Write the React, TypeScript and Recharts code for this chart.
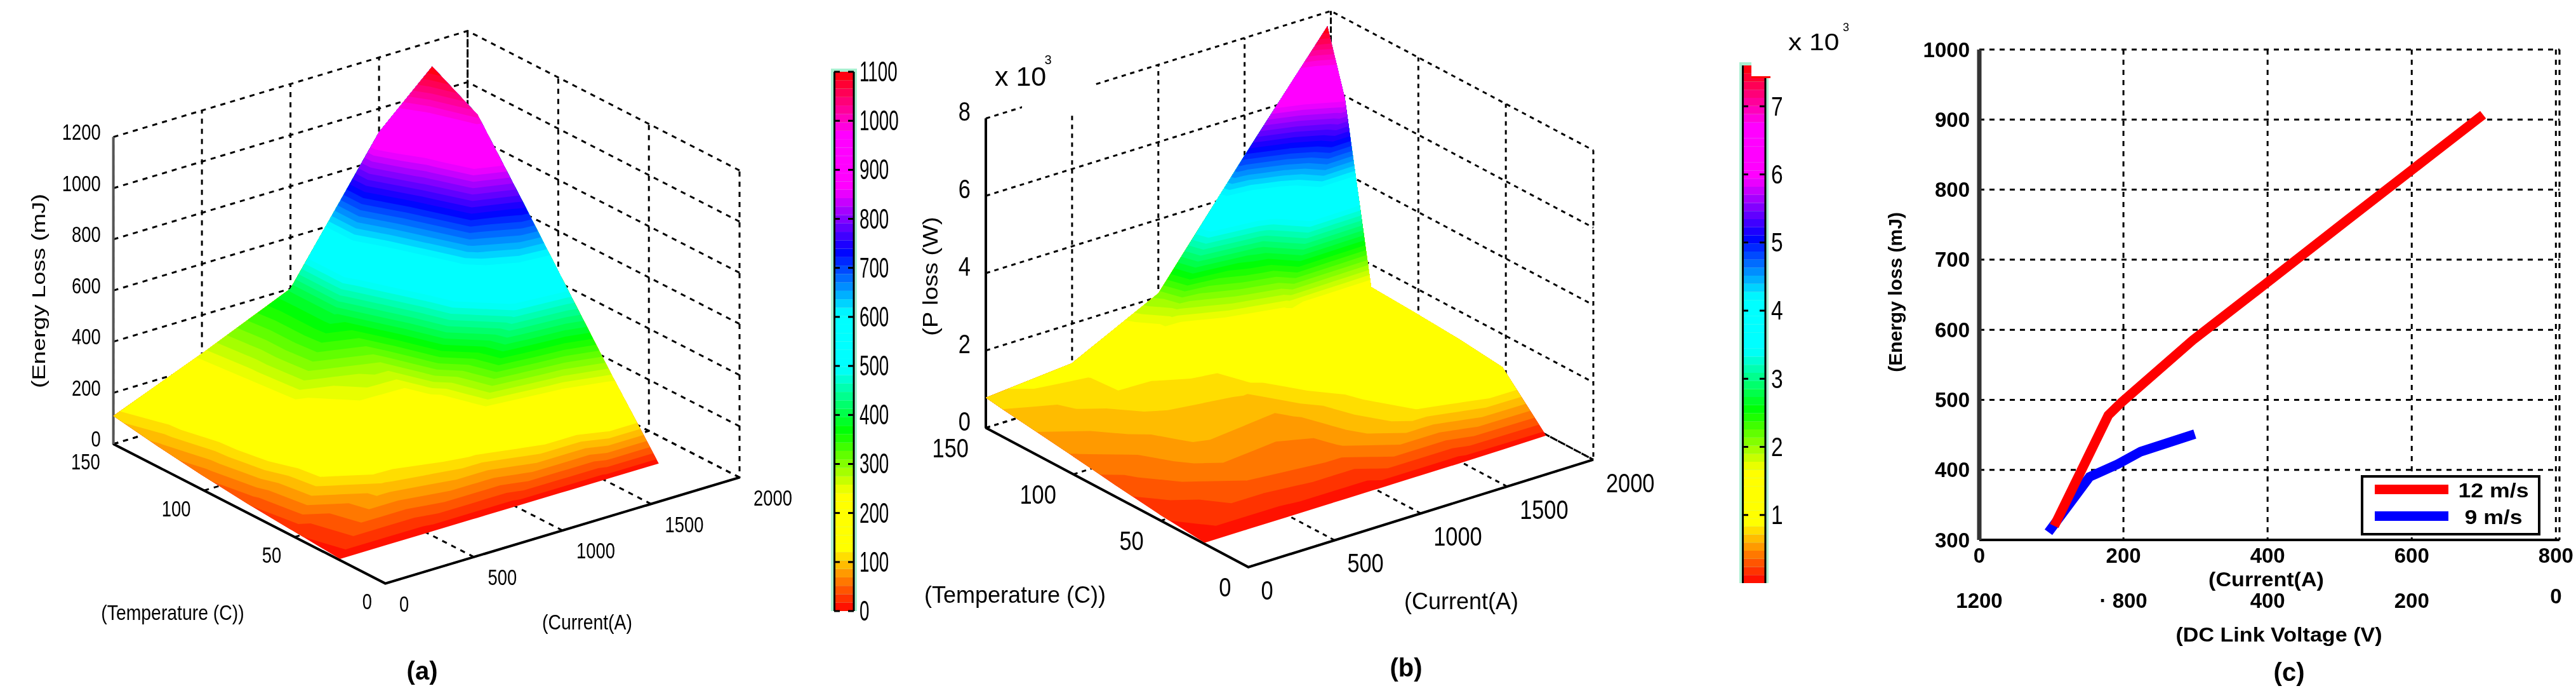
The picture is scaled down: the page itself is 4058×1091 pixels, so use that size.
import React from "react";
import {
  Area,
  Bar,
  BarChart,
  CartesianGrid,
  ComposedChart,
  Legend,
  Line,
  LineChart,
  Scatter,
  XAxis,
  YAxis,
} from "recharts";

const PAGE_W = 4058;
const PAGE_H = 1091;
const FONT = "'Liberation Sans', Arial, sans-serif";
const BANDS = 64;

// (a) energy loss surface, mJ. One row per temperature, one column per current.
const energyCurrents = [0, 500, 1000, 1500, 1800];
const energyTemps = [25, 50, 75, 100, 125, 150];
const energyAt25 = [5, 5, 5, 5, 5];
const energyAt50 = [20, 100, 130, 185, 247];
const energyAt75 = [35, 190, 195, 475, 500];
const energyAt100 = [55, 230, 290, 670, 755];
const energyAt125 = [80, 240, 400, 780, 1005];
const energyAt150 = [110, 250, 400, 908, 1102];
const energyCurrentTicks = [0, 500, 1000, 1500, 2000];
const energyTempTicks = [0, 50, 100, 150];
const energyZTicks = [0, 200, 400, 600, 800, 1000, 1200];
const energyBarTicks = [0, 100, 200, 300, 400, 500, 600, 700, 800, 900, 1000, 1100];

// (b) power loss surface, x 10^3 W
const powerCurrents = [0, 500, 1000, 1500, 1980];
const powerTemps = [25, 50, 75, 100, 125, 140, 150];
const powerAt25 = [0.03, 0.03, 0.03, 0.03, 0.05];
const powerAt50 = [0.14, 0.36, 0.43, 0.85, 1.22];
const powerAt75 = [0.29, 0.57, 0.53, 1.0, 1.35];
const powerAt100 = [0.46, 0.67, 0.72, 1.25, 1.43];
const powerAt125 = [0.62, 0.79, 0.89, 1.7, 1.49];
const powerAt140 = [0.71, 0.82, 1.85, 2.9, 6];
const powerAt150 = [0.78, 0.98, 2.09, 4.96, 7.63];
const powerCurrentTicks = [0, 500, 1000, 1500, 2000];
const powerTempTicks = [0, 50, 100, 150];
const powerZTicks = [0, 2, 4, 6, 8];
const powerBarTicks = [1, 2, 3, 4, 5, 6, 7];

// (c) energy loss against current
const fast12 = [
  { current: 104, loss: 320 },
  { current: 179, loss: 478 },
  { current: 198, loss: 497 },
  { current: 296, loss: 585 },
  { current: 394, loss: 663 },
  { current: 511, loss: 757 },
  { current: 595, loss: 824 },
  { current: 699, loss: 907 },
];
const slow9 = [
  { current: 96, loss: 311 },
  { current: 153, loss: 390 },
  { current: 192, loss: 408 },
  { current: 224, loss: 426 },
  { current: 299, loss: 451 },
];
const currentTicks = [0, 200, 400, 600, 800];
const voltageLabels = ["1200", "· 800", "400", "200", "0"];
const lossTicks = [300, 400, 500, 600, 700, 800, 900, 1000];

type Vec = [number, number];
type View = { origin: Vec; iEnd: Vec; tEnd: Vec; zEnd: Vec; iMax: number; tMax: number; zMax: number };

// where each axis runs on the page, the surface is projected through these
const energyView: View = {
  origin: [607, 918.6],
  iEnd: [1165, 751.6],
  tEnd: [178.6, 699],
  zEnd: [178.6, 215.7],
  iMax: 2000,
  tMax: 150,
  zMax: 1200,
};
const powerView: View = {
  origin: [1966.5, 892.8],
  iEnd: [2510, 723.7],
  tEnd: [1553, 673.6],
  zEnd: [1553, 186.5],
  iMax: 2000,
  tMax: 150,
  zMax: 8,
};

function project(v: View, i: number, t: number, z: number): { vx: number; vy: number } {
  const a = i / v.iMax;
  const b = t / v.tMax;
  const c = z / v.zMax;
  return {
    vx: v.origin[0] + a * (v.iEnd[0] - v.origin[0]) + b * (v.tEnd[0] - v.origin[0]),
    vy:
      v.origin[1] +
      a * (v.iEnd[1] - v.origin[1]) +
      b * (v.tEnd[1] - v.origin[1]) +
      c * (v.zEnd[1] - v.tEnd[1]),
  };
}

// hsv colour map, the channels saturate early so yellow, cyan and magenta come out wide
function hsv(h: number): string {
  const f = ((h % 1) + 1) % 1;
  const k = (n: number) => {
    const p = (n + f * 6) % 6;
    const c = 1 - Math.max(0, Math.min(p, 4 - p, 1));
    return Math.round(255 * Math.min(1, c / 0.7));
  };
  const hex = (n: number) => n.toString(16).padStart(2, "0");
  return `#${hex(k(5))}${hex(k(3))}${hex(k(1))}`;
}

type Pt = { x: number; y: number; z: number };

function triangles(v: View, currents: number[], temps: number[], rows: number[][]): Pt[][] {
  const at = (t: number, i: number): Pt => {
    const p = project(v, currents[i], temps[t], rows[t][i]);
    return { x: p.vx, y: p.vy, z: rows[t][i] };
  };
  const out: Pt[][] = [];
  for (let t = 0; t < temps.length - 1; t++) {
    for (let i = 0; i < currents.length - 1; i++) {
      out.push([at(t, i), at(t, i + 1), at(t + 1, i + 1)]);
      out.push([at(t, i), at(t + 1, i + 1), at(t + 1, i)]);
    }
  }
  return out;
}

// the part of the surface at or above a level, as low/high pairs per screen column
function regionAbove(tris: Pt[][], level: number) {
  const eps = 1e-7;
  const xs: number[] = [];
  for (const tri of tris) {
    for (let e = 0; e < 3; e++) {
      const p = tri[e];
      const q = tri[(e + 1) % 3];
      xs.push(p.x);
      if ((p.z - level) * (q.z - level) < 0) {
        xs.push(p.x + ((level - p.z) / (q.z - p.z)) * (q.x - p.x));
      }
    }
  }
  xs.sort((a, b) => a - b);
  const rows: { vx: number; range: [number, number] | null }[] = [];
  let last = -Infinity;
  for (const x of xs) {
    if (x - last < 0.01) continue;
    last = x;
    let lo = -Infinity;
    let hi = Infinity;
    for (const tri of tris) {
      const cut: { y: number; z: number }[] = [];
      for (let e = 0; e < 3; e++) {
        const p = tri[e];
        const q = tri[(e + 1) % 3];
        if (x < Math.min(p.x, q.x) - 1e-9 || x > Math.max(p.x, q.x) + 1e-9) continue;
        const f = q.x === p.x ? 0 : (x - p.x) / (q.x - p.x);
        cut.push({ y: p.y + f * (q.y - p.y), z: p.z + f * (q.z - p.z) });
      }
      for (let a = 0; a < cut.length; a++) {
        for (let b = a + 1; b < cut.length; b++) {
          const p = cut[a];
          const q = cut[b];
          if (p.z >= level - eps) {
            lo = Math.max(lo, p.y);
            hi = Math.min(hi, p.y);
          }
          if (q.z >= level - eps) {
            lo = Math.max(lo, q.y);
            hi = Math.min(hi, q.y);
          }
          if ((p.z - level) * (q.z - level) < 0) {
            const y = p.y + ((level - p.z) / (q.z - p.z)) * (q.y - p.y);
            lo = Math.max(lo, y);
            hi = Math.min(hi, y);
          }
        }
      }
    }
    rows.push({ vx: x, range: lo === -Infinity ? null : [lo, hi] });
  }
  return rows;
}

function Squish({ x, y, text, size, sx = 1, rotate = 0, anchor = "middle", weight = 400 }: any) {
  return (
    <text
      transform={`translate(${x} ${y}) rotate(${rotate}) scale(${sx} 1)`}
      textAnchor={anchor}
      dominantBaseline="central"
      fontFamily={FONT}
      fontSize={size}
      fontWeight={weight}
      fill="#000"
    >
      {text}
    </text>
  );
}

type SurfaceProps = {
  view: View;
  currents: number[];
  temps: number[];
  rows: number[][];
  colorMax: number;
  iTicks: number[];
  tTicks: number[];
  zTicks: number[];
  zAxisColor: string;
  digitSize: number;
  digitSx: number;
  tOffset: Vec;
  iOffset: Vec;
  zOffset: Vec;
  dash: string;
};

function Surface(props: SurfaceProps) {
  const { view, currents, temps, rows, colorMax, iTicks, tTicks, zTicks } = props;
  const { iMax, tMax, zMax } = view;
  const tris = triangles(view, currents, temps, rows);
  const step = colorMax / BANDS;
  const bands = Array.from({ length: BANDS }, (_, k) => ({
    color: hsv((k + 0.5) / BANDS),
    data: regionAbove(tris, k === 0 ? -1 : k * step),
  }));

  const dashed: { vx: number; vy: number }[][] = [];
  for (const z of zTicks) {
    dashed.push([project(view, 0, tMax, z), project(view, iMax, tMax, z), project(view, iMax, 0, z)]);
  }
  for (const i of iTicks) {
    dashed.push([project(view, i, 0, 0), project(view, i, tMax, 0), project(view, i, tMax, zMax)]);
  }
  for (const t of tTicks) {
    dashed.push([project(view, 0, t, 0), project(view, iMax, t, 0), project(view, iMax, t, zMax)]);
  }
  const solid = [
    { color: "#000", data: [project(view, iMax, 0, 0), project(view, 0, 0, 0), project(view, 0, tMax, 0)] },
    { color: props.zAxisColor, data: [project(view, 0, tMax, 0), project(view, 0, tMax, zMax)] },
  ];

  const labels = [
    ...zTicks.map((z) => ({ ...project(view, 0, tMax, z), label: String(z), off: props.zOffset, anchor: "end" })),
    ...tTicks.map((t) => ({ ...project(view, 0, t, 0), label: String(t), off: props.tOffset, anchor: "end" })),
    ...iTicks.map((i) => ({ ...project(view, i, 0, 0), label: String(i), off: props.iOffset, anchor: "start" })),
  ];

  return (
    <ComposedChart
      width={PAGE_W}
      height={PAGE_H}
      margin={{ top: 0, right: 0, bottom: 0, left: 0 }}
      style={{ position: "absolute", left: 0, top: 0 }}
    >
      <XAxis type="number" dataKey="vx" domain={[0, PAGE_W]} hide allowDataOverflow />
      <YAxis type="number" dataKey="vy" domain={[0, PAGE_H]} reversed hide allowDataOverflow width={0} />
      {dashed.map((data, n) => (
        <Line
          key={`d${n}`}
          data={data}
          dataKey="vy"
          stroke="#000"
          strokeWidth={3}
          strokeDasharray={props.dash}
          dot={false}
          activeDot={false}
          isAnimationActive={false}
          zIndex={50}
        />
      ))}
      {solid.map((s, n) => (
        <Line
          key={`s${n}`}
          data={s.data}
          dataKey="vy"
          stroke={s.color}
          strokeWidth={4}
          dot={false}
          activeDot={false}
          isAnimationActive={false}
          zIndex={60}
        />
      ))}
      {bands.map((b, n) => (
        <Area
          key={`b${n}`}
          data={b.data}
          dataKey="range"
          type="linear"
          fill={b.color}
          fillOpacity={1}
          stroke="none"
          dot={false}
          activeDot={false}
          isAnimationActive={false}
          zIndex={100}
        />
      ))}
      <Scatter
        data={labels}
        isAnimationActive={false}
        shape={(p: any) => (
          <Squish
            x={p.cx + p.off[0]}
            y={p.cy + p.off[1]}
            text={p.label}
            size={props.digitSize}
            sx={props.digitSx}
            anchor={p.anchor}
          />
        )}
      />
    </ComposedChart>
  );
}

function ColorBar({ left, right, top, bottom, max, ticks, size, sx }: any) {
  const step = max / BANDS;
  const row: Record<string, number | string> = { cat: "bar" };
  for (let k = 0; k < BANDS; k++) row[`b${k}`] = step;
  return (
    <>
      {/* pale fringe round the bar, left over from the scan */}
      <div style={{ position: "absolute", left: left - 5, top: top - 5, width: right - left + 10, height: bottom - top + 5, background: "#a8f0d0" }} />
      <BarChart
        width={PAGE_W}
        height={PAGE_H}
        data={[row]}
        barCategoryGap={0}
        margin={{ top, left, right: PAGE_W - right - 1, bottom: PAGE_H - bottom }}
        style={{ position: "absolute", left: 0, top: 0 }}
      >
        <XAxis dataKey="cat" hide />
        <YAxis
          yAxisId="bar"
          orientation="right"
          type="number"
          width={1}
          domain={[0, max]}
          ticks={ticks}
          interval={0}
          tickLine={false}
          axisLine={{ stroke: "#000", strokeWidth: 3 }}
          tick={(p: any) => (
            <g>
              <line x1={right - 9} x2={right} y1={p.y} y2={p.y} stroke="#000" strokeWidth={3} />
              <line x1={left} x2={left + 9} y1={p.y} y2={p.y} stroke="#000" strokeWidth={3} />
              <Squish x={right + 9} y={p.y} text={String(p.payload.value)} size={size} sx={sx} anchor="start" />
            </g>
          )}
        />
        {Array.from({ length: BANDS }, (_, k) => (
          <Bar
            key={k}
            yAxisId="bar"
            dataKey={`b${k}`}
            stackId="bar"
            fill={hsv((k + 0.5) / BANDS)}
            isAnimationActive={false}
          />
        ))}
      </BarChart>
      <div style={{ position: "absolute", left: left - 1, top, width: 3, height: bottom - top, background: "#000" }} />
    </>
  );
}

function CurrentChart() {
  const plotLeft = 3118;
  const plotRight = 4032;
  return (
    <LineChart
      width={PAGE_W}
      height={PAGE_H}
      margin={{ top: 78, left: plotLeft - 100, right: PAGE_W - plotRight, bottom: 131 }}
      style={{ position: "absolute", left: 0, top: 0 }}
    >
      <CartesianGrid stroke="#000" strokeWidth={3} strokeDasharray="8 8" />
      <XAxis
        type="number"
        dataKey="current"
        domain={[0, 805]}
        ticks={currentTicks}
        interval={0}
        height={110}
        tickLine={false}
        axisLine={{ stroke: "#000", strokeWidth: 4 }}
        tick={(p: any) => {
          const n = currentTicks.indexOf(p.payload.value);
          return (
            <g>
              <Squish x={p.x} y={874} text={String(p.payload.value)} size={33} weight={700} />
              <Squish x={p.x} y={n === 4 ? 938 : 945} text={voltageLabels[n]} size={33} weight={700} />
            </g>
          );
        }}
      />
      <YAxis
        type="number"
        dataKey="loss"
        width={100}
        domain={[300, 1000]}
        ticks={lossTicks}
        interval={0}
        tickLine={false}
        axisLine={{ stroke: "#333", strokeWidth: 7 }}
        tick={(p: any) => (
          <Squish x={3103} y={p.y} text={String(p.payload.value)} size={33} weight={700} anchor="end" />
        )}
      />
      <Line data={slow9} dataKey="loss" stroke="#0000ff" strokeWidth={15} dot={false} isAnimationActive={false} />
      <Line data={fast12} dataKey="loss" stroke="#ff0000" strokeWidth={15} dot={false} isAnimationActive={false} />
      <Legend
        layout="horizontal"
        align="center"
        verticalAlign="middle"
        wrapperStyle={{ left: 3719, top: 748, width: 283, height: 95, margin: 0 }}
        content={() => (
          <svg width={283} height={95} style={{ display: "block" }}>
            <rect x={2} y={2} width={279} height={91} fill="#fff" stroke="#000" strokeWidth={4} />
            <rect x={22} y={15} width={116} height={15} fill="#ff0000" />
            <rect x={22} y={57} width={116} height={15} fill="#0000ff" />
            <Squish x={209} y={24} text="12 m/s" size={31} sx={1.15} weight={700} />
            <Squish x={209} y={66} text="9 m/s" size={31} sx={1.15} weight={700} />
          </svg>
        )}
      />
    </LineChart>
  );
}

export default function App() {
  return (
    <div style={{ position: "absolute", left: 0, top: 0, width: PAGE_W, height: PAGE_H, background: "#fff", overflow: "hidden", filter: "blur(0.6px)" }}>
      <Surface
        view={energyView}
        currents={energyCurrents}
        temps={energyTemps}
        rows={[energyAt25, energyAt50, energyAt75, energyAt100, energyAt125, energyAt150]}
        colorMax={1100}
        iTicks={energyCurrentTicks}
        tTicks={energyTempTicks}
        zTicks={energyZTicks}
        zAxisColor="#555"
        digitSize={36}
        digitSx={0.76}
        tOffset={[-21, 28]}
        iOffset={[22, 32]}
        zOffset={[-20, -8]}
        dash="8 8"
      />
      <ColorBar left={1314} right={1345} top={113} bottom={962} max={1100} ticks={energyBarTicks} size={44} sx={0.63} />

      <Surface
        view={powerView}
        currents={powerCurrents}
        temps={powerTemps}
        rows={[powerAt25, powerAt50, powerAt75, powerAt100, powerAt125, powerAt140, powerAt150]}
        colorMax={7.6}
        iTicks={powerCurrentTicks}
        tTicks={powerTempTicks}
        zTicks={powerZTicks}
        zAxisColor="#000"
        digitSize={43}
        digitSx={0.8}
        tOffset={[-27, 31]}
        iOffset={[20, 36]}
        zOffset={[-24, -11]}
        dash="7 7"
      />
      <ColorBar left={2745} right={2781} top={103} bottom={918} max={7.6} ticks={powerBarTicks} size={42} sx={0.8} />
      {/* the cut-outs in (b): behind the exponent, and the notched top of its colour bar */}
      <div style={{ position: "absolute", left: 1610, top: 100, width: 115, height: 77, background: "#fff" }} />
      <div style={{ position: "absolute", left: 2759, top: 96, width: 30, height: 24, background: "#fff", borderBottom: "3px solid #ff0000" }} />

      <CurrentChart />

      <svg width={PAGE_W} height={PAGE_H} style={{ position: "absolute", left: 0, top: 0, pointerEvents: "none" }}>
        <Squish x={272} y={965} text="(Temperature (C))" size={33} sx={0.86} />
        <Squish x={925} y={980} text="(Current(A)" size={33} sx={0.86} />
        <Squish x={60} y={458} text="(Energy Loss (mJ)" size={30} sx={1.25} rotate={-90} />
        <Squish x={665} y={1056} text="(a)" size={40} weight={700} />

        <Squish x={1599} y={936} text="(Temperature (C))" size={36} />
        <Squish x={2302} y={946} text="(Current(A)" size={36} />
        <Squish x={1465} y={435} text="(P loss (W)" size={34} sx={1.12} rotate={-90} />
        <Squish x={2215} y={1051} text="(b)" size={40} weight={700} />
        <Squish x={1567} y={120} text="x 10" size={43} anchor="start" />
        <Squish x={1651} y={94} text="3" size={20} />
        <Squish x={2817} y={66} text="x 10" size={37} sx={1.15} anchor="start" />
        <Squish x={2908} y={43} text="3" size={18} />

        <Squish x={2985} y={460} text="(Energy loss (mJ)" size={30} weight={700} rotate={-90} />
        <Squish x={3570} y={913} text="(Current(A)" size={31} sx={1.1} weight={700} />
        <Squish x={3590} y={1000} text="(DC Link Voltage (V)" size={31} sx={1.1} weight={700} />
        <Squish x={3606} y={1058} text="(c)" size={40} weight={700} />
      </svg>
    </div>
  );
}
